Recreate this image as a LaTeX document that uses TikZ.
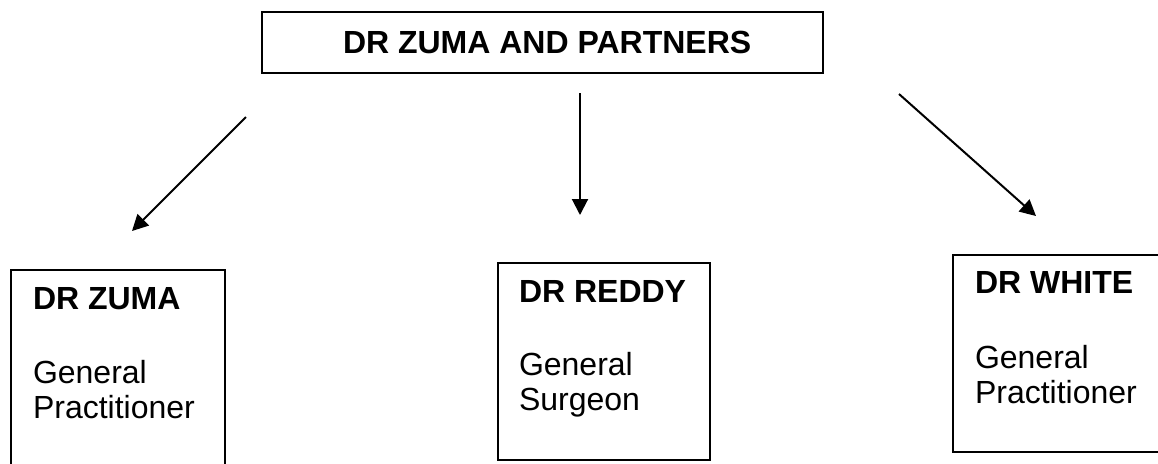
\documentclass[tikz,border=0pt]{standalone}
\usepackage{fontspec}
\setsansfont{Liberation Sans}
\usetikzlibrary{arrows.meta}
\tikzset{
	docbox/.style={draw,line width=1pt,anchor=north west,inner sep=0pt},
	txt/.style={anchor=base west,inner sep=0pt},
}
\begin{document}
\begin{tikzpicture}[>={Triangle[length=8pt,width=8pt]},font=\sffamily\fontsize{16}{19}\selectfont,x=0.5pt,y=-0.5pt,line width=1pt]
	\useasboundingbox (0,0) rectangle (1158,463);
	\clip (0,0) rectangle (1158,463);

	\node [docbox,minimum width=280.5pt,minimum height=30.5pt] (partners) at (261,11) {};
	\node [txt,font=\sffamily\bfseries\fontsize{16}{19}\selectfont] (partnersname) at (342,53) {DR ZUMA AND PARTNERS};

	\node [docbox,minimum width=107pt,minimum height=115pt] (zuma) at (10,269) {};
	\node [txt,font=\sffamily\bfseries\fontsize{16}{19}\selectfont] (zumaname) at (32,309) {DR ZUMA};
	\node [txt] (zumarole1) at (32,383) {General};
	\node [txt] (zumarole2) at (32,418) {Practitioner};

	\node [docbox,minimum width=106pt,minimum height=98.5pt] (reddy) at (497,262) {};
	\node [txt,font=\sffamily\bfseries\fontsize{16}{19}\selectfont] (reddyname) at (518,302) {DR REDDY};
	\node [txt] (reddyrole1) at (518,375) {General};
	\node [txt] (reddyrole2) at (518,410) {Surgeon};

	\node [docbox,minimum width=115pt,minimum height=98.5pt] (white) at (952,254) {};
	\node [txt,font=\sffamily\bfseries\fontsize{16}{19}\selectfont] (whitename) at (974,293) {DR WHITE};
	\node [txt] (whiterole1) at (974,368) {General};
	\node [txt] (whiterole2) at (974,403) {Practitioner};

	% arrow ends
	\coordinate (fromleft) at (246,117);
	\coordinate (toleft) at (132,231);
	\coordinate (frommid) at (580,93);
	\coordinate (tomid) at (580,215);
	\coordinate (fromright) at (899,94);
	\coordinate (toright) at (1036,216);

	\draw [->] (fromleft) -- (toleft);
	\draw [->] (frommid) -- (tomid);
	\draw [->] (fromright) -- (toright);
\end{tikzpicture}
\end{document}
